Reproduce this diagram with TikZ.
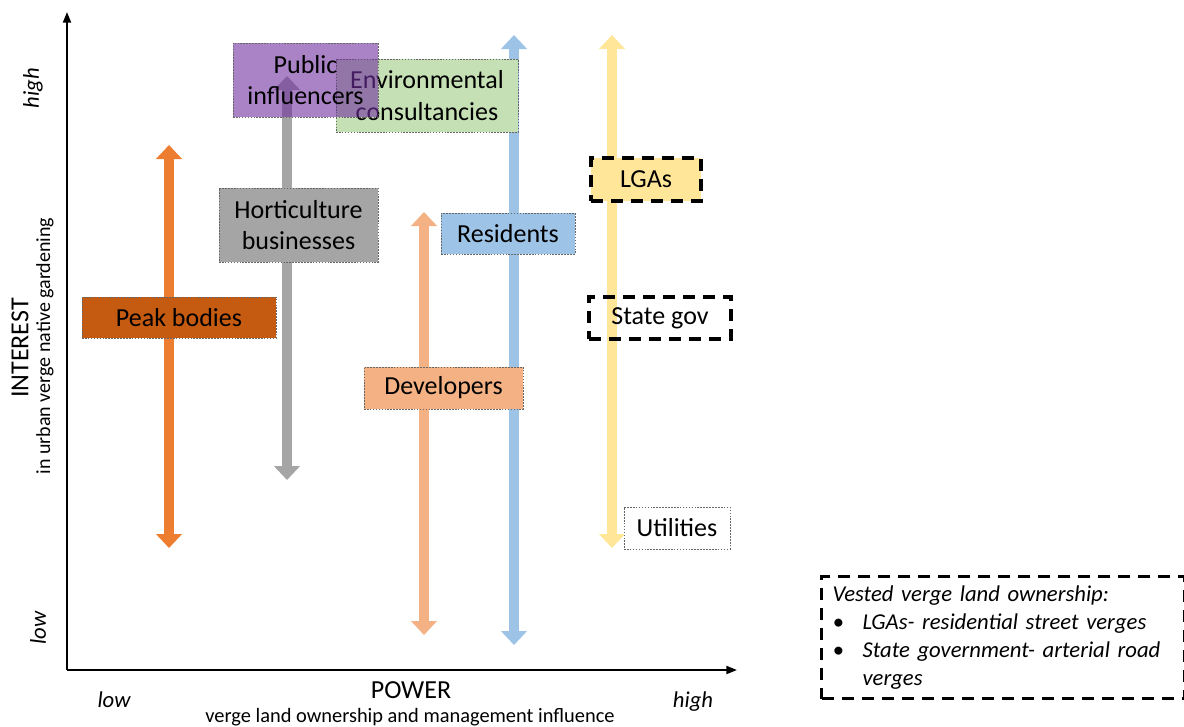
\documentclass[tikz,border=0pt]{standalone}
\usepackage{fontspec}
\setmainfont{Carlito}
\usetikzlibrary{arrows.meta}

\definecolor{peakOrange}{HTML}{C55A11}
\definecolor{arrowOrange}{HTML}{ED7D31}
\definecolor{hortiGrey}{HTML}{A5A5A5}
\definecolor{devPeach}{HTML}{F4B183}
\definecolor{resBlue}{HTML}{9DC3E6}
\definecolor{lgaYellow}{HTML}{FFE699}
\definecolor{envGreen}{HTML}{C5E0B4}
\definecolor{pubPurple}{HTML}{7030A0}

\tikzstyle{stakeBox}=[draw=black!60, line width=0.6pt, dash pattern=on 1.2pt off 1pt, inner sep=0pt, align=center, font=\fontsize{19.5}{23.5}\selectfont]
\tikzstyle{vestedBox}=[draw=black, line width=2.4pt, dash pattern=on 9pt off 6pt, inner sep=0pt, align=center, font=\fontsize{19.5}{23.5}\selectfont]
\tikzstyle{rangeArrow}=[{Triangle[width=19pt,length=10.5pt]}-{Triangle[width=19pt,length=10.5pt]}, line width=8pt]
\tikzstyle{axisLine}=[-{Triangle[width=6pt,length=8pt]}, line width=1.5pt]

\begin{document}
\begin{tikzpicture}[x=0.75pt,y=-0.75pt]
		\useasboundingbox (0,0) rectangle (1184,726);
		
		\coordinate (origin) at (67,670);
		\coordinate (yTop) at (67,12);
		\coordinate (xEnd) at (737,670);
		\draw[axisLine] (origin) -- (yTop);
		\draw[axisLine] (origin) -- (xEnd);
		
		\node[rotate=90, font=\fontsize{19.5}{23.5}\selectfont] (interest) at (20,348) {INTEREST};
		\node[rotate=90, font=\fontsize{15}{18}\selectfont] (interestSub) at (45,346) {in urban verge native gardening};
		\node[rotate=90, font=\itshape\fontsize{17}{20}\selectfont] (yHigh) at (33,88) {high};
		\node[rotate=90, font=\itshape\fontsize{17}{20}\selectfont] (yLow) at (38,628) {low};
		\node[font=\fontsize{19.5}{23.5}\selectfont] (power) at (411,690) {POWER};
		\node[font=\fontsize{15.3}{18}\selectfont] (powerSub) at (410,717) {verge land ownership and management influence};
		\node[font=\itshape\fontsize{17}{20}\selectfont] (xLow) at (114,700) {low};
		\node[font=\itshape\fontsize{17}{20}\selectfont] (xHigh) at (693,702) {high};
		
		\coordinate (peakTop) at (169,145);
		\coordinate (peakBot) at (169,548);
		\coordinate (hortiTop) at (287,76);
		\coordinate (hortiBot) at (287,480);
		\coordinate (devTop) at (424,212);
		\coordinate (devBot) at (424,635);
		\coordinate (resTop) at (514,35);
		\coordinate (resBot) at (514,645);
		\coordinate (govTop) at (612,35);
		\coordinate (govBot) at (612,548);
		\draw[rangeArrow, arrowOrange] (peakTop) -- (peakBot);
		\draw[rangeArrow, hortiGrey] (hortiTop) -- (hortiBot);
		\draw[rangeArrow, devPeach] (devTop) -- (devBot);
		\draw[rangeArrow, resBlue] (resTop) -- (resBot);
		\draw[rangeArrow, lgaYellow] (govTop) -- (govBot);
		
		\node[stakeBox, fill=envGreen, minimum width=136.5pt, minimum height=54.75pt] (env) at (427,95.5) {Environmental\\consultancies};
		\node[stakeBox, fill=pubPurple, fill opacity=0.6, text opacity=1, minimum width=108.75pt, minimum height=55.5pt] (public) at (305.5,80) {Public\\influencers};
		\node[stakeBox, fill=hortiGrey, minimum width=119.25pt, minimum height=55.5pt] (horti) at (298.5,225) {Horticulture\\businesses};
		\node[stakeBox, fill=resBlue, minimum width=100.5pt, minimum height=30.75pt] (residents) at (508,233.5) {Residents};
		\node[stakeBox, fill=peakOrange, minimum width=145.5pt, minimum height=30.75pt] (peak) at (179,317.5) {Peak bodies};
		\node[stakeBox, fill=devPeach, minimum width=119.25pt, minimum height=31.5pt] (developers) at (443.5,388) {Developers};
		\node[stakeBox, fill=white, minimum width=79.5pt, minimum height=31.5pt] (utilities) at (677,528) {Utilities};
		\node[vestedBox, fill=lgaYellow, minimum width=82.5pt, minimum height=32.25pt] (lgas) at (646,179.5) {LGAs};
		\node[vestedBox, minimum width=106.5pt, minimum height=31.5pt] (stateGov) at (660,318) {State gov};
		
		\node[vestedBox, anchor=north west, align=left, minimum width=272.5pt, minimum height=91.5pt, text width=256pt, inner xsep=8pt, font=\itshape\fontsize{17}{21}\selectfont] (legend) at (820,575) {Vested verge land ownership:\\\makebox[22.5pt][l]{\textbullet}LGAs- residential street verges\\\makebox[22.5pt][l]{\textbullet}State government- arterial road\\\hspace*{22.5pt}verges};
		\end{tikzpicture}
\end{document}
